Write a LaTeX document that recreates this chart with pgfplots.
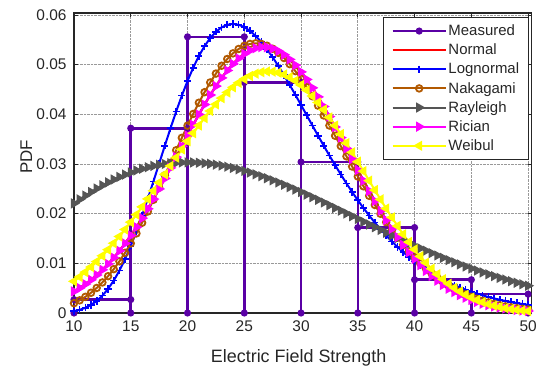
\documentclass[border=0pt]{standalone}
\usepackage{fontspec}
\setmainfont{Liberation Sans}
\usepackage{pgfplots}
\usepackage{pgfplotstable}
\pgfplotsset{compat=1.18}
\definecolor{meas}{RGB}{90,0,165}
\definecolor{nak}{RGB}{178,89,0}
\definecolor{ray}{RGB}{85,85,85}
\definecolor{axc}{RGB}{38,38,38}
\definecolor{mag}{RGB}{255,0,255}
\definecolor{yel}{RGB}{255,255,0}
\definecolor{blu}{RGB}{0,0,255}
\definecolor{rd}{RGB}{255,0,0}
\pgfplotstableread{
x hist
10 0
10 0.0027
15 0.0027
15 0
15 0.0372
20 0.0372
20 0
20 0.0556
25 0.0556
25 0
25 0.0464
30 0.0464
30 0
30 0.0304
35 0.0304
35 0
35 0.0172
40 0.0172
40 0
40 0.0067
45 0.0067
45 0
45 0.0038
50 0.0038
50 0
}\measured
\pgfplotstableread{
x nor logn nak ray wei
10 0.004342 0.000367 0.001974 0.022062 0.006378
10.5 0.005034 0.000635 0.002555 0.022871 0.007268
11 0.005813 0.001041 0.003252 0.023640 0.008227
11.5 0.006682 0.001625 0.004078 0.024369 0.009255
12 0.007645 0.002429 0.005041 0.025058 0.010353
12.5 0.008706 0.003492 0.006150 0.025706 0.011517
13 0.009872 0.004848 0.007410 0.026311 0.012747
13.5 0.011144 0.006522 0.008827 0.026874 0.014043
14 0.012523 0.008526 0.010400 0.027395 0.015400
14.5 0.014010 0.010860 0.012128 0.027872 0.016815
15 0.015601 0.013510 0.014005 0.028307 0.018284
15.5 0.017297 0.016446 0.016024 0.028698 0.019803
16 0.019091 0.019628 0.018172 0.029046 0.021367
16.5 0.020975 0.023005 0.020435 0.029351 0.022969
17 0.022940 0.026515 0.022796 0.029614 0.024602
17.5 0.024980 0.030094 0.025234 0.029835 0.026259
18 0.027077 0.033675 0.027726 0.030014 0.027931
18.5 0.029219 0.037189 0.030246 0.030152 0.029611
19 0.031389 0.040573 0.032770 0.030249 0.031287
19.5 0.033569 0.043767 0.035268 0.030307 0.032949
20 0.035738 0.046720 0.037714 0.030327 0.034587
20.5 0.037876 0.049386 0.040079 0.030308 0.036192
21 0.039961 0.051730 0.042335 0.030252 0.037747
21.5 0.041972 0.053728 0.044457 0.030160 0.039245
22 0.043887 0.055361 0.046420 0.030034 0.040672
22.5 0.045682 0.056622 0.048202 0.029874 0.042017
23 0.047338 0.057510 0.049782 0.029682 0.043268
23.5 0.048828 0.058033 0.051143 0.029458 0.044413
24 0.050145 0.058203 0.052272 0.029205 0.045440
24.5 0.051266 0.058039 0.053158 0.028923 0.046341
25 0.052175 0.057565 0.053793 0.028615 0.047104
25.5 0.052860 0.056805 0.054173 0.028280 0.047721
26 0.053314 0.055789 0.054300 0.027921 0.048185
26.5 0.053531 0.054544 0.054175 0.027540 0.048488
27 0.053507 0.053102 0.053806 0.027137 0.048626
27.5 0.053242 0.051491 0.053201 0.026714 0.048594
28 0.052741 0.049741 0.052373 0.026272 0.048392
28.5 0.052009 0.047879 0.051336 0.025813 0.048018
29 0.051058 0.045932 0.050106 0.025339 0.047474
29.5 0.049898 0.043923 0.048702 0.024850 0.046765
30 0.048546 0.041877 0.047143 0.024349 0.045892
30.5 0.047017 0.039811 0.045450 0.023836 0.044864
31 0.045332 0.037746 0.043642 0.023313 0.043690
31.5 0.043512 0.035696 0.041742 0.022782 0.042377
32 0.041578 0.033674 0.039768 0.022243 0.040940
32.5 0.039550 0.031696 0.037743 0.021698 0.039391
33 0.037453 0.029769 0.035685 0.021148 0.037743
33.5 0.035308 0.027900 0.033613 0.020595 0.036011
34 0.033135 0.026098 0.031545 0.020038 0.034211
34.5 0.030955 0.024366 0.029495 0.019481 0.032357
35 0.028790 0.022709 0.027479 0.018923 0.030467
35.5 0.026653 0.021130 0.025508 0.018366 0.028559
36 0.024567 0.019629 0.023594 0.017811 0.026646
36.5 0.022541 0.018207 0.021748 0.017258 0.024743
37 0.020589 0.016863 0.019976 0.016709 0.022865
37.5 0.018723 0.015597 0.018285 0.016165 0.021027
38 0.016950 0.014408 0.016680 0.015625 0.019240
38.5 0.015274 0.013293 0.015164 0.015092 0.017516
39 0.013703 0.012250 0.013740 0.014564 0.015864
39.5 0.012239 0.011276 0.012408 0.014044 0.014292
40 0.010880 0.010368 0.011167 0.013534 0.012806
40.5 0.009630 0.009524 0.010018 0.013030 0.011413
41 0.008485 0.008740 0.008958 0.012536 0.010114
41.5 0.007444 0.008013 0.007984 0.012051 0.008912
42 0.006500 0.007341 0.007093 0.011576 0.007808
42.5 0.005650 0.006719 0.006281 0.011112 0.006801
43 0.004890 0.006145 0.005544 0.010657 0.005889
43.5 0.004212 0.005616 0.004879 0.010214 0.005068
44 0.003613 0.005129 0.004280 0.009781 0.004332
44.5 0.003086 0.004681 0.003743 0.009360 0.003681
45 0.002620 0.004269 0.003263 0.008951 0.003108
45.5 0.002218 0.003891 0.002836 0.008552 0.002607
46 0.001868 0.003545 0.002457 0.008166 0.002172
46.5 0.001567 0.003228 0.002122 0.007791 0.001798
47 0.001308 0.002937 0.001827 0.007427 0.001478
47.5 0.001087 0.002672 0.001568 0.007076 0.001206
48 0.000899 0.002429 0.001343 0.006736 0.000978
48.5 0.000740 0.002207 0.001146 0.006408 0.000787
49 0.000607 0.002005 0.000975 0.006091 0.000628
49.5 0.000496 0.001820 0.000827 0.005786 0.000498
50 0.000403 0.001652 0.000700 0.005492 0.000392
}\fits
\begin{document}
\begin{tikzpicture}
\useasboundingbox (-74bp,-57bp) rectangle (464bp,313bp);
\begin{axis}[
  scale only axis,
  width=457.5bp, height=300bp,
  at={(0,0)}, anchor=south west,
  xmin=10, xmax=50.3, ymin=0, ymax=0.0604,
  xtick={10,15,...,50},
  ytick={0,0.01,0.02,0.03,0.04,0.05,0.06},
  yticklabels={0,0.01,0.02,0.03,0.04,0.05,0.06},
  scaled y ticks=false,
  /pgf/number format/assume math mode=true,
  tick label style={font=\fontsize{15.5}{17}\selectfont, text=axc},
  xticklabel style={yshift=-4.5bp},
  yticklabel style={xshift=-4bp},
  tick align=inside,
  major tick length=4bp,
  tick style={axc, line width=0.8bp},
  axis line style={axc, line width=1.3bp},
  grid=major,
  major grid style={densely dotted, black!40, line width=0.8bp},
  xlabel={Electric Field Strength},
  ylabel={PDF},
  every axis x label/.style={at={(axis description cs:0.491,-0.166)}, anchor=base,
    font=\fontsize{18}{20}\selectfont, text=axc},
  every axis y label/.style={at={(axis description cs:-0.0918,0.52)}, anchor=base, rotate=90,
    font=\fontsize{17}{20}\selectfont, text=axc},
  legend style={at={(axis description cs:0.9945,0.9867)}, anchor=north east,
    draw=axc, line width=0.8bp, fill=white,
    font=\fontsize{15}{17}\selectfont, text=axc,
    inner xsep=8bp, inner ysep=6bp,
    row sep=3.8bp,
    nodes={inner sep=1.5bp}},
  legend cell align=left,
  legend image code/.code={
    \draw[mark repeat=2,mark phase=2,#1] plot coordinates {(0bp,0bp) (26.5bp,0bp) (53bp,0bp)};
  },
]
\addplot[meas, line width=2.6bp, mark=*, mark size=2.2bp, mark options={solid}] table[x=x,y=hist] {\measured};
\addlegendentry{Measured}
\addplot[rd, line width=2.4bp, mark=none] table[x=x,y=nor] {\fits};
\addlegendentry{Normal}
\addplot[blu, line width=2bp, mark=+, mark size=3.6bp, mark options={line width=1.6bp}] table[x=x,y=logn] {\fits};
\addlegendentry{Lognormal}
\addplot[nak, line width=2bp, mark=o, mark size=3.3bp, mark options={line width=1.8bp}] table[x=x,y=nak] {\fits};
\addlegendentry{Nakagami}
\addplot[ray, line width=2bp, mark=triangle*, mark size=4bp, mark options={rotate=-90}] table[x=x,y=ray] {\fits};
\addlegendentry{Rayleigh}
\addplot[mag, line width=2bp, mark=triangle*, mark size=4bp, mark options={rotate=-90}] table[x=x,y=nor] {\fits};
\addlegendentry{Rician}
\addplot[yel, line width=2bp, mark=triangle*, mark size=4bp, mark options={rotate=90}] table[x=x,y=wei] {\fits};
\addlegendentry{Weibul}
\end{axis}
\end{tikzpicture}
\end{document}
